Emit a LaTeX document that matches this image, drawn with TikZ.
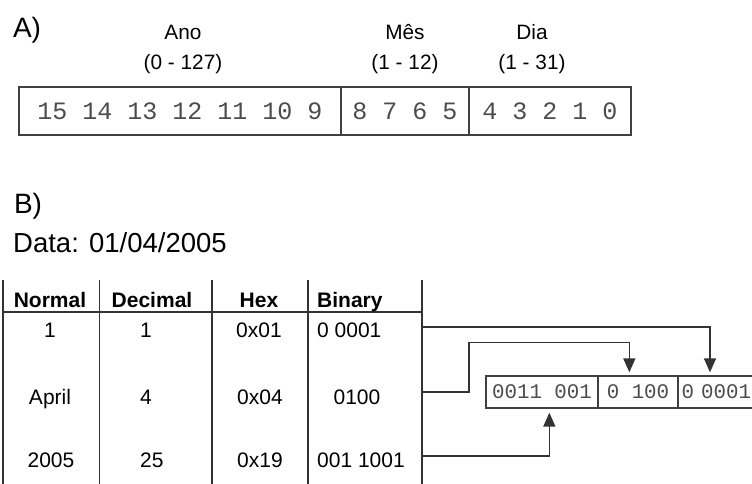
\documentclass[tikz,border=0pt]{standalone}
\usepackage{fontspec}
\setmainfont{Liberation Sans}
\newfontfamily\bitfont{Liberation Mono}
\usetikzlibrary{arrows.meta,calc}
\begin{document}
\begin{tikzpicture}[x=1pt,y=-1pt,
  lbl/.style={inner sep=0pt, anchor=base, font=\fontsize{20.8}{24}\selectfont},
  big/.style={inner sep=0pt, anchor=base, font=\fontsize{28}{32}\selectfont},
  cell/.style={inner sep=0pt, anchor=base, font=\fontsize{21}{25}\selectfont},
  hcell/.style={inner sep=0pt, anchor=base, font=\fontsize{21}{25}\selectfont\bfseries},
  afield/.style={draw=black!75, line width=1.3pt, minimum height=48pt, inner sep=0pt, text=black!70, font=\bitfont\fontsize{25}{30}\selectfont},
  bfield/.style={draw=black!75, line width=1.3pt, minimum height=32pt, inner sep=0pt, text=black!70, font=\bitfont\fontsize{20.8}{25}\selectfont},
  tline/.style={black!80, line width=1.3pt},
  arr/.style={black!80, line width=1.4pt, -{Triangle[length=14pt,width=12pt]}}
]
\useasboundingbox (0,0) rectangle (752,484);
\clip (0,0) rectangle (752,484);

% ---------- Part A ----------
\node[big] (A) at (27,37.5) {A)};
\node[lbl] (ano) at (183,40) {Ano};
\node[lbl] (anor) at (183,70) {(0 - 127)};
\node[lbl] (mes) at (405,40) {Mês};
\node[lbl] (mesr) at (405,70) {(1 - 12)};
\node[lbl] (dia) at (532,40) {Dia};
\node[lbl] (diar) at (532,70) {(1 - 31)};

\node[afield, minimum width=322pt] (a1) at (180,111) {15 14 13 12 11 10 9};
\node[afield, minimum width=128pt] (a2) at (405,111) {8 7 6 5};
\node[afield, minimum width=162pt] (a3) at (550,111) {4 3 2 1 0};

% ---------- Part B ----------
\node[big] (B) at (28,213) {B)};
\node[inner sep=0pt, anchor=base west, font=\fontsize{27.5}{32}\selectfont] (data) at (13,252) {Data: 01/04/2005};

% table lines
\draw[tline] (3,280) -- (3,490);
\draw[tline] (99.5,280) -- (99.5,490);
\draw[tline] (212,280) -- (212,490);
\draw[tline] (308,280) -- (308,490);
\draw[tline] (422,280) -- (422,490);
\draw[black!80, line width=1.8pt] (3,312) -- (422,312);

% header
\node[hcell] (hn) at (50,307) {Normal};
\node[hcell] (hd) at (152,307) {Decimal};
\node[hcell] (hh) at (259,307) {Hex};
\node[hcell, anchor=base west] (hb) at (317,307) {Binary};

% row 1
\node[cell] (n1) at (50,337.5) {1};
\node[cell, anchor=base west] (d1) at (140,337.5) {1};
\node[cell] (h1) at (259,337.5) {0x01};
\node[cell, anchor=base west] (b1) at (317,337.5) {0 0001};
% row 2
\node[cell] (n2) at (50,404) {April};
\node[cell, anchor=base west] (d2) at (140,404) {4};
\node[cell] (h2) at (260,404) {0x04};
\node[cell] (b2) at (357,404) {0100};
% row 3
\node[cell] (n3) at (51,467) {2005};
\node[cell, anchor=base west] (d3) at (140,467) {25};
\node[cell] (h3) at (260,467) {0x19};
\node[cell, anchor=base west] (b3) at (317,467) {001 1001};

% packed date box
\node[bfield, minimum width=112pt] (f1) at (542,392) {0011 001};
\node[bfield, minimum width=80pt] (f2) at (638,392) {0 100};
\node[bfield, inner xsep=3pt, text width=96pt, align=left, anchor=west] (f3) at (678,392) {0 0001};

% connectors
\coordinate (r1) at (422,327);
\coordinate (r2) at (422,392);
\coordinate (r3) at (422,456);
\draw[arr, shorten >=3pt] (r1) -| ($(f3.north west)+(32,0)$);
\draw[arr, shorten >=3pt] (r2) -- ++(47,0) |- ($(f2.north west)+(32,-33)$) -- ($(f2.north west)+(32,0)$);
\draw[arr, shorten >=4pt] (r3) -| ($(f1.south west)+(64,0)$);
\end{tikzpicture}
\end{document}
